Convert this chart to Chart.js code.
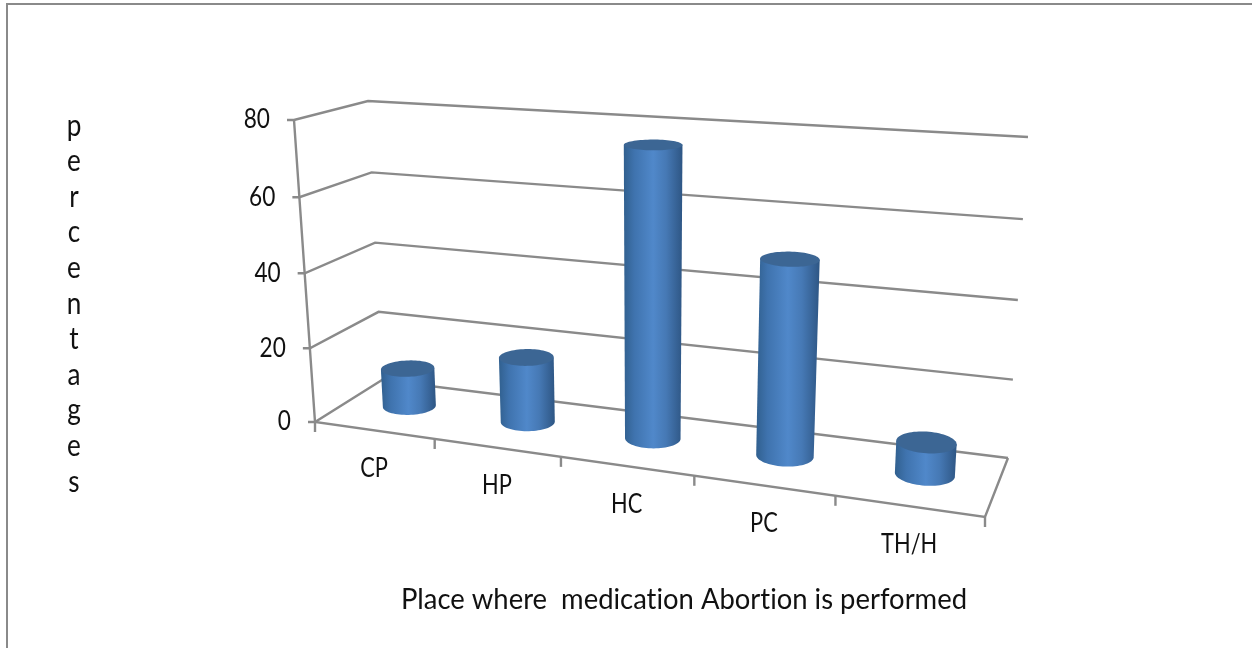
<!DOCTYPE html>
<html>
<head>
<meta charset="utf-8">
<script src="https://cdn.jsdelivr.net/npm/chart.js@4"></script>
<style>
  html, body { margin: 0; padding: 0; background: #fff; overflow: hidden; }
  #frame { position: absolute; left: 6px; top: 3px; width: 1246px; height: 645px; box-sizing: border-box;
           border-left: 2px solid #8a8a8a; border-top: 2px solid #8a8a8a; }
  canvas { position: absolute; left: 0; top: 0; }
</style>
</head>
<body>
<div id="frame"></div>
<canvas id="chart" width="1252" height="648"></canvas>
<script>
// Data
const categories = ["CP", "HP", "HC", "PC", "TH/H"];
const percentages = [10.5, 17.5, 76, 50, 8];
const yMax = 80;
const yStep = 20;
const xTitle = "Place where  medication Abortion is performed";
const yTitle = "percentages";

const fontName = "Lato, 'Open Sans', sans-serif";
const lineColor = "#8a8a8a";

// Corners of the 3D box on the page: front/back, bottom/top, left/right
const box = {
  fbl: [315, 422], fbr: [985, 517], bbl: [382, 380], bbr: [1008, 458],
  ftl: [294, 120], ftr: [1006, 170], btl: [368, 101], btr: [1028, 137],
};
const barDepth = 0.56;   // where the cylinders stand between front and back
const depthRadius = 0.19;

function lerp(a, b, t) { return a + (b - a) * t; }
function warp(t, a) { return t * a / (1 + (a - 1) * t); }

// u: 0..1 along categories, d: 0 front..1 back, v: 0..1 along the value axis
function project(u, d, v) {
  const uu = warp(u, 0.87);
  const vv = warp(v, 0.97);
  const out = [0, 1].map((i) => {
    const bottom = lerp(lerp(box.fbl[i], box.fbr[i], uu), lerp(box.bbl[i], box.bbr[i], uu), d);
    const top = lerp(lerp(box.ftl[i], box.ftr[i], uu), lerp(box.btl[i], box.btr[i], uu), d);
    return lerp(bottom, top, vv);
  });
  return out;
}

function strokeLine(ctx, pts, color, width) {
  ctx.beginPath();
  pts.forEach((p, i) => (i ? ctx.lineTo(p[0], p[1]) : ctx.moveTo(p[0], p[1])));
  ctx.strokeStyle = color || lineColor;
  ctx.lineWidth = width || 2.4;
  ctx.stroke();
}

// The original font is narrower than Lato, so text gets squeezed sideways
function drawText(ctx, text, x, y, size, squeeze, align) {
  ctx.save();
  ctx.translate(x, y);
  ctx.scale(squeeze, 1);
  ctx.font = size + "px " + fontName;
  ctx.letterSpacing = "0.01px"; // stops the "ti" ligature
  ctx.fillStyle = "#111";
  ctx.textAlign = align || "center";
  ctx.textBaseline = "middle";
  ctx.fillText(text, 0, 0);
  ctx.restore();
}

function ring(u, du, v) {
  const pts = [];
  for (let i = 0; i < 72; i++) {
    const a = (i / 72) * Math.PI * 2;
    pts.push(project(u + du * Math.cos(a), barDepth + depthRadius * Math.sin(a), v));
  }
  return pts;
}

function extremes(pts) {
  let lo = 0, hi = 0;
  pts.forEach((p, i) => {
    if (p[0] < pts[lo][0]) lo = i;
    if (p[0] > pts[hi][0]) hi = i;
  });
  return [lo, hi];
}

function drawCylinder(ctx, u, du, v) {
  const top = ring(u, du, v);
  const bottom = ring(u, du, 0);
  const [tl, tr] = extremes(top);
  const [bl, br] = extremes(bottom);

  // d goes up the sin side, so the near arc of the base runs through the angle of 270 degrees
  const near = [];
  for (let i = bl; ; i = (i + 1) % bottom.length) {
    near.push(bottom[i]);
    if (i === br) break;
  }

  const grad = ctx.createLinearGradient(Math.min(top[tl][0], bottom[bl][0]), 0, Math.max(top[tr][0], bottom[br][0]), 0);
  grad.addColorStop(0, "#31608f");
  grad.addColorStop(0.18, "#3f73ae");
  grad.addColorStop(0.5, "#5088ca");
  grad.addColorStop(0.72, "#4679b5");
  grad.addColorStop(1, "#2e5684");

  ctx.beginPath();
  ctx.moveTo(top[tl][0], top[tl][1]);
  near.forEach((p) => ctx.lineTo(p[0], p[1]));
  ctx.lineTo(top[tr][0], top[tr][1]);
  ctx.closePath();
  ctx.fillStyle = grad;
  ctx.fill();

  ctx.beginPath();
  top.forEach((p, i) => (i ? ctx.lineTo(p[0], p[1]) : ctx.moveTo(p[0], p[1])));
  ctx.closePath();
  ctx.fillStyle = "#3c6694";
  ctx.fill();
}

const box3d = {
  id: "box3d",
  beforeDatasetsDraw(chart) {
    const { ctx } = chart;
    const yScale = chart.scales.y;
    const xScale = chart.scales.x;
    ctx.save();

    // back wall and side wall grid
    yScale.ticks.forEach((t) => {
      const v = (yScale.bottom - yScale.getPixelForValue(t.value)) / yScale.height;
      const front = project(0, 0, v);
      strokeLine(ctx, [[front[0] - 7, front[1]], front, project(0, 1, v), project(1, 1, v)]);
      drawText(ctx, t.label, front[0] - 24, front[1], 26, 0.87, "right");
    });

    // vertical axis and floor
    strokeLine(ctx, [project(0, 0, 1), project(0, 0, 0), project(1, 0, 0), project(1, 1, 0)]);

    // category ticks and labels along the front edge
    categories.forEach((name, i) => {
      const edge = project((xScale.getPixelForTick(i) - xScale.left) / xScale.width, 0, 0);
      drawText(ctx, name, edge[0], edge[1] + 38, 26, 0.84);
    });
    for (let i = 0; i <= categories.length; i++) {
      const p = project(i / categories.length, 0, 0);
      strokeLine(ctx, [p, [p[0], p[1] + 10]]);
    }

    // axis titles
    drawText(ctx, xTitle, 684, 600, 29, 0.945);
    yTitle.split("").forEach((ch, i) => drawText(ctx, ch, 74, 126 + i * 35.6, 30, 0.87));

    ctx.restore();
  },
  afterDatasetsDraw(chart) {
    const { ctx } = chart;
    const xScale = chart.scales.x;
    const yScale = chart.scales.y;
    ctx.save();
    chart.getDatasetMeta(0).data.forEach((bar) => {
      const u = (bar.x - xScale.left) / xScale.width;
      const du = bar.width / 2 / xScale.width;
      const v = (yScale.bottom - bar.y) / yScale.height;
      drawCylinder(ctx, u, du, v);
    });
    ctx.restore();
  },
};

new Chart(document.getElementById("chart"), {
  type: "bar",
  data: {
    labels: categories,
    datasets: [{
      label: "percentages",
      data: percentages,
      backgroundColor: "transparent",
      barPercentage: 0.41,
      categoryPercentage: 1,
    }],
  },
  options: {
    responsive: false,
    animation: false,
    plugins: { legend: { display: false }, tooltip: { enabled: false } },
    scales: {
      x: { display: false },
      y: { display: false, min: 0, max: yMax, ticks: { stepSize: yStep } },
    },
  },
  plugins: [box3d],
});
</script>
</body>
</html>
